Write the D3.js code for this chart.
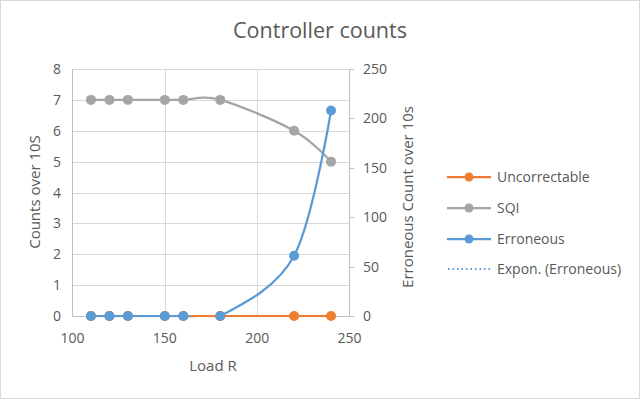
<!DOCTYPE html>
<head>
  <meta charset="utf-8">
  <script src="https://d3js.org/d3.v7.min.js"></script>
  <style>
    body { margin: 0; background: #fff; }
    text { font-family: "Open Sans", "Liberation Sans", sans-serif; fill: #595959; }
  </style>
</head>
<body>
  <script>
    var loads = [110, 120, 130, 150, 160, 180, 220, 240];
    var uncorrectable = [0, 0, 0, 0, 0, 0, 0, 0];
    var sqi = [7, 7, 7, 7, 7, 7, 6, 5];
    var erroneous = [0, 0, 0, 0, 0, 0, 61, 208];
    var xTicks = [100, 150, 200, 250];
    var leftTicks = [0, 1, 2, 3, 4, 5, 6, 7, 8];
    var rightTicks = [0, 50, 100, 150, 200, 250];
    var legendNames = ["Uncorrectable", "SQI", "Erroneous", "Expon. (Erroneous)"];

    var W = 640, H = 399;
    var colors = { orange: "#ed7d31", gray: "#a5a5a5", blue: "#5b9bd5" };

    var svg = d3.select("body").append("svg").attr("width", W).attr("height", H);
    svg.append("rect").attr("x", 0.5).attr("y", 0.5).attr("width", W - 1).attr("height", H - 1)
      .attr("fill", "#fff").attr("stroke", "#d9d9d9");

    var x = d3.scaleLinear().domain([100, 250]).range([72.5, 349.5]);
    var yL = d3.scaleLinear().domain([0, 8]).range([316, 69]);
    var yR = d3.scaleLinear().domain([0, 250]).range([316, 69]);

    // plot area clip (lines only, a little slack for stroke width)
    svg.append("defs").append("clipPath").attr("id", "plotclip")
      .append("rect").attr("x", 60).attr("y", 50).attr("width", 310).attr("height", 316 + 1.3 - 50);

    // gridlines
    var grid = svg.append("g").attr("stroke", "#d9d9d9").attr("stroke-width", 1);
    grid.selectAll(".h").data(leftTicks.slice(1)).enter().append("line")
      .attr("x1", x(100)).attr("x2", x(250))
      .attr("y1", d => Math.round(yL(d)) + 0.5).attr("y2", d => Math.round(yL(d)) + 0.5);
    grid.selectAll(".v").data([150, 200]).enter().append("line")
      .attr("y1", yL(0)).attr("y2", yL(8))
      .attr("x1", d => Math.round(x(d)) + 0.5).attr("x2", d => Math.round(x(d)) + 0.5);

    // axis lines
    var ax = svg.append("g").attr("stroke", "#bfbfbf").attr("stroke-width", 1);
    ax.append("line").attr("x1", 72.5).attr("x2", 72.5).attr("y1", yL(8)).attr("y2", yL(0));
    ax.append("line").attr("x1", 349.5).attr("x2", 349.5).attr("y1", yL(8)).attr("y2", yL(0));
    ax.append("line").attr("x1", 72.5).attr("x2", 349.5).attr("y1", 316.5).attr("y2", 316.5);
    ax.selectAll(".rt").data(rightTicks).enter().append("line")
      .attr("x1", 349.5).attr("x2", 354)
      .attr("y1", d => Math.round(yR(d)) + 0.5).attr("y2", d => Math.round(yR(d)) + 0.5);

    // tick labels
    svg.selectAll(".lt").data(leftTicks).enter().append("text")
      .attr("x", 61).attr("y", d => yL(d) + 5).attr("text-anchor", "end")
      .attr("font-size", 14).text(d => d);
    svg.selectAll(".rtl").data(rightTicks).enter().append("text")
      .attr("x", 363).attr("y", d => yR(d) + 5).attr("text-anchor", "start")
      .attr("font-size", 14).text(d => d);
    svg.selectAll(".xt").data(xTicks).enter().append("text")
      .attr("x", d => x(d)).attr("y", 343).attr("text-anchor", "middle")
      .attr("font-size", 14).text(d => d);

    // titles
    svg.append("text").attr("x", 320).attr("y", 38).attr("text-anchor", "middle")
      .attr("font-size", 21.5).text("Controller counts");
    svg.append("text").attr("x", 213).attr("y", 371).attr("text-anchor", "middle")
      .attr("font-size", 15).text("Load R");
    svg.append("text").attr("transform", "translate(40,192) rotate(-90)").attr("text-anchor", "middle")
      .attr("font-size", 15).text("Counts over 10S");
    svg.append("text").attr("transform", "translate(413,197) rotate(-90)").attr("text-anchor", "middle")
      .attr("font-size", 15).text("Erroneous Count over 10s");

    // series
    function series(vals, yScale, color, curve) {
      var pts = loads.map((l, i) => [l, vals[i]]);
      var line = d3.line().x(d => x(d[0])).y(d => yScale(d[1])).curve(curve);
      var g = svg.append("g");
      g.append("path").attr("d", line(pts)).attr("fill", "none").attr("clip-path", "url(#plotclip)")
        .attr("stroke", color).attr("stroke-width", 2.25).attr("stroke-linecap", "round");
      g.selectAll("circle").data(pts).enter().append("circle")
        .attr("cx", d => x(d[0])).attr("cy", d => yScale(d[1])).attr("r", 5)
        .attr("fill", color);
    }
    series(uncorrectable, yL, colors.orange, d3.curveLinear);
    series(sqi, yL, colors.gray, d3.curveCatmullRom.alpha(0));
    series(erroneous, yR, colors.blue, d3.curveCatmullRom.alpha(0));

    // legend
    var leg = svg.append("g");
    var legY = [177, 208, 239, 269];
    var legColors = [colors.orange, colors.gray, colors.blue, colors.blue];
    legendNames.forEach(function (name, i) {
      var y = legY[i];
      var l = leg.append("line").attr("x1", 447).attr("x2", 491).attr("y1", y).attr("y2", y)
        .attr("stroke", legColors[i]).attr("stroke-width", 2.25);
      if (i === 3) {
        l.attr("stroke-dasharray", "1.5,3").attr("stroke-width", 2).attr("x1", 448);
      } else {
        leg.append("circle").attr("cx", 469).attr("cy", y).attr("r", 4.5).attr("fill", legColors[i]);
      }
      leg.append("text").attr("x", 497).attr("y", y + 5).attr("font-size", 14).text(name);
    });
  </script>
</body>
